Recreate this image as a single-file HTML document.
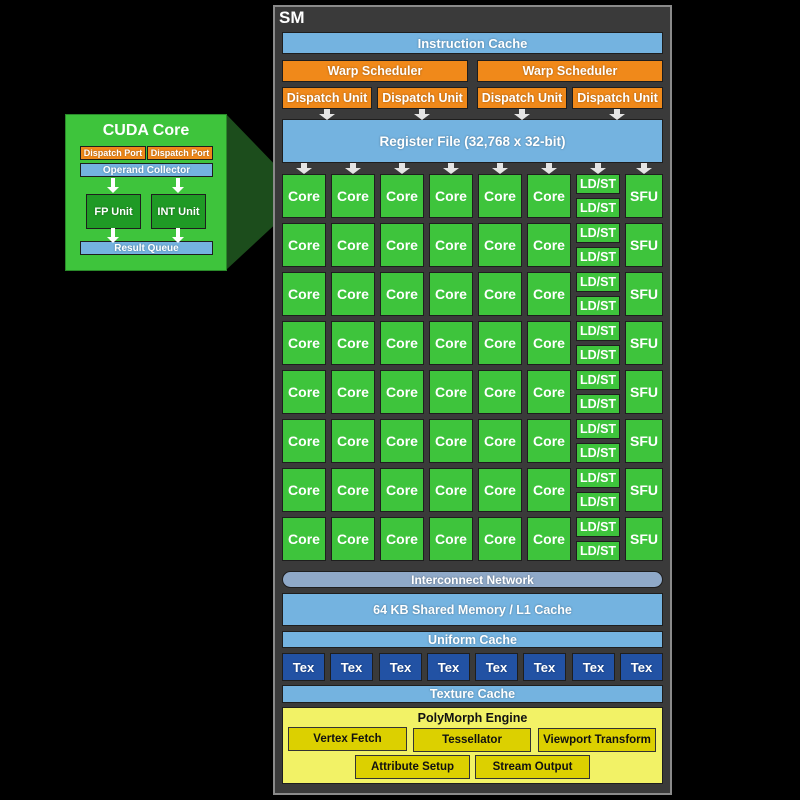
<!DOCTYPE html>
<html><head><meta charset="utf-8"><style>
*{box-sizing:border-box;margin:0;padding:0}
body{width:800px;height:800px;background:#000;position:relative;overflow:hidden;font-family:"Liberation Sans",sans-serif;font-weight:bold}
.a{position:absolute;display:flex;align-items:center;justify-content:center;color:#fff;border:1px solid #1e1e1e;text-shadow:0 0 2px rgba(0,0,0,.35)}
.b{background:#74b3e0}
.o{background:#f0891a;font-size:12.5px}
.t{background:#2252a4;font-size:13px}
.y{background:#dcd000;color:#111;text-shadow:none;border:1px solid #333;font-size:11.5px}
.row{position:absolute;left:282px;display:grid;grid-template-columns:repeat(7,44px) 38px;column-gap:5px;height:44px}
.row div{background:#3ec43c;border:1px solid #1e1e1e;color:#fff;display:flex;align-items:center;justify-content:center;font-size:14px}
.row div.l{display:flex;flex-direction:column;justify-content:space-between;align-items:stretch;background:none;border:none}
.row .l span{height:20px;background:#3ec43c;border:1px solid #1e1e1e;display:flex;align-items:center;justify-content:center;font-size:12.5px}
</style></head><body>
<svg style="position:absolute;left:0;top:0" width="800" height="800"><polygon points="226,114 282,172 282,218 226,270" fill="#1c4d1c"/></svg>
<div style="position:absolute;left:273px;top:5px;width:399px;height:790px;background:#3a3a3a;border:2px solid #8a8a8a"></div>
<div style="position:absolute;left:279px;top:8px;color:#fff;font-size:17px">SM</div>
<div class="a b" style="left:282px;top:32px;width:381px;height:22px;font-size:13px">Instruction Cache</div>
<div class="a o" style="left:282px;top:60px;width:186px;height:22px">Warp Scheduler</div>
<div class="a o" style="left:477px;top:60px;width:186px;height:22px">Warp Scheduler</div>
<div class="a o" style="left:282px;top:87px;width:90px;height:22px">Dispatch Unit</div>
<div class="a o" style="left:377px;top:87px;width:91px;height:22px">Dispatch Unit</div>
<div class="a o" style="left:477px;top:87px;width:90px;height:22px">Dispatch Unit</div>
<div class="a o" style="left:572px;top:87px;width:91px;height:22px">Dispatch Unit</div>
<div class="a b" style="left:282px;top:119px;width:381px;height:44px;font-size:13.5px">Register File (32,768 x 32-bit)</div>

<div class="row" style="top:174px"><div>Core</div><div>Core</div><div>Core</div><div>Core</div><div>Core</div><div>Core</div><div class="l"><span>LD/ST</span><span>LD/ST</span></div><div>SFU</div></div>
<div class="row" style="top:223px"><div>Core</div><div>Core</div><div>Core</div><div>Core</div><div>Core</div><div>Core</div><div class="l"><span>LD/ST</span><span>LD/ST</span></div><div>SFU</div></div>
<div class="row" style="top:272px"><div>Core</div><div>Core</div><div>Core</div><div>Core</div><div>Core</div><div>Core</div><div class="l"><span>LD/ST</span><span>LD/ST</span></div><div>SFU</div></div>
<div class="row" style="top:321px"><div>Core</div><div>Core</div><div>Core</div><div>Core</div><div>Core</div><div>Core</div><div class="l"><span>LD/ST</span><span>LD/ST</span></div><div>SFU</div></div>
<div class="row" style="top:370px"><div>Core</div><div>Core</div><div>Core</div><div>Core</div><div>Core</div><div>Core</div><div class="l"><span>LD/ST</span><span>LD/ST</span></div><div>SFU</div></div>
<div class="row" style="top:419px"><div>Core</div><div>Core</div><div>Core</div><div>Core</div><div>Core</div><div>Core</div><div class="l"><span>LD/ST</span><span>LD/ST</span></div><div>SFU</div></div>
<div class="row" style="top:468px"><div>Core</div><div>Core</div><div>Core</div><div>Core</div><div>Core</div><div>Core</div><div class="l"><span>LD/ST</span><span>LD/ST</span></div><div>SFU</div></div>
<div class="row" style="top:517px"><div>Core</div><div>Core</div><div>Core</div><div>Core</div><div>Core</div><div>Core</div><div class="l"><span>LD/ST</span><span>LD/ST</span></div><div>SFU</div></div>

<div class="a" style="left:282px;top:571px;width:381px;height:17px;border-radius:9px;background:#8fa9c8;font-size:12px">Interconnect Network</div>
<div class="a b" style="left:282px;top:593px;width:381px;height:33px;font-size:12.5px">64 KB Shared Memory / L1 Cache</div>
<div class="a b" style="left:282px;top:631px;width:381px;height:17px;font-size:12.5px">Uniform Cache</div>
<div class="a t" style="left:282px;top:653px;width:43px;height:28px">Tex</div>
<div class="a t" style="left:330px;top:653px;width:43px;height:28px">Tex</div>
<div class="a t" style="left:379px;top:653px;width:43px;height:28px">Tex</div>
<div class="a t" style="left:427px;top:653px;width:43px;height:28px">Tex</div>
<div class="a t" style="left:475px;top:653px;width:43px;height:28px">Tex</div>
<div class="a t" style="left:523px;top:653px;width:43px;height:28px">Tex</div>
<div class="a t" style="left:572px;top:653px;width:43px;height:28px">Tex</div>
<div class="a t" style="left:620px;top:653px;width:43px;height:28px">Tex</div>
<div class="a b" style="left:282px;top:685px;width:381px;height:18px;font-size:12.5px">Texture Cache</div>
<div class="a" style="left:282px;top:707px;width:381px;height:77px;background:#f2f266;color:#111;text-shadow:none;align-items:flex-start;padding-top:3px;font-size:12.5px">PolyMorph Engine</div>
<div class="a y" style="left:288px;top:727px;width:119px;height:24px">Vertex Fetch</div>
<div class="a y" style="left:413px;top:728px;width:118px;height:24px">Tessellator</div>
<div class="a y" style="left:538px;top:728px;width:118px;height:24px">Viewport Transform</div>
<div class="a y" style="left:355px;top:755px;width:115px;height:24px">Attribute Setup</div>
<div class="a y" style="left:475px;top:755px;width:115px;height:24px">Stream Output</div>

<div style="position:absolute;left:65px;top:114px;width:162px;height:157px;background:#3ec43c;border:1px solid #2a8a2a"></div>
<div style="position:absolute;left:65px;top:122px;width:162px;text-align:center;color:#fff;font-size:16px">CUDA Core</div>
<div class="a o" style="left:80px;top:146px;width:66px;height:14px;font-size:9px">Dispatch Port</div>
<div class="a o" style="left:147px;top:146px;width:66px;height:14px;font-size:9px">Dispatch Port</div>
<div class="a b" style="left:80px;top:163px;width:133px;height:14px;font-size:10px">Operand Collector</div>
<div class="a" style="left:86px;top:194px;width:55px;height:35px;background:#1f9a25;font-size:11px">FP Unit</div>
<div class="a" style="left:151px;top:194px;width:55px;height:35px;background:#1f9a25;font-size:11px">INT Unit</div>
<div class="a b" style="left:80px;top:241px;width:133px;height:14px;font-size:10px">Result Queue</div>

<svg style="position:absolute;left:0;top:0" width="800" height="800">
<defs><path id="ar" d="M-3,0 h6 v5 h5 l-8,6 l-8,-6 h5 z" fill="#e4e4e4"/>
<path id="ar2" d="M-2,0 h4 v9 h4 l-6,6 l-6,-6 h4 z" fill="#fff"/></defs>
<use href="#ar" x="327" y="109"/><use href="#ar" x="422" y="109"/><use href="#ar" x="522" y="109"/><use href="#ar" x="617" y="109"/>
<use href="#ar" x="304" y="163"/><use href="#ar" x="353" y="163"/><use href="#ar" x="402" y="163"/><use href="#ar" x="451" y="163"/><use href="#ar" x="500" y="163"/><use href="#ar" x="549" y="163"/><use href="#ar" x="598" y="163"/><use href="#ar" x="644" y="163"/>
<use href="#ar2" x="113" y="178"/><use href="#ar2" x="178" y="178"/>
<use href="#ar2" x="113" y="228"/><use href="#ar2" x="178" y="228"/>
</svg>
</body></html>
